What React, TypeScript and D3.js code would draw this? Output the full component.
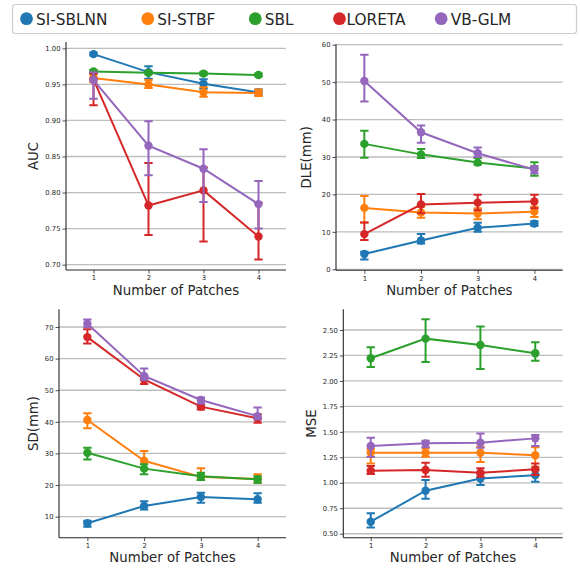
import * as d3 from 'd3';
import { useRef, useEffect } from 'react';

const patches = [1, 2, 3, 4];
const methods = ['SI-SBLNN', 'SI-STBF', 'SBL', 'LORETA', 'VB-GLM'];
const colors = ['#1f77b4', '#ff7f0e', '#2ca02c', '#d62728', '#9467bd'];

// AUC (rows follow methods order)
const aucMean = [
  [0.992, 0.967, 0.951, 0.939],
  [0.959, 0.950, 0.939, 0.938],
  [0.968, 0.966, 0.965, 0.963],
  [0.957, 0.782, 0.803, 0.739],
  [0.956, 0.865, 0.833, 0.784],
];
const aucLow = [
  [0.990, 0.958, 0.944, 0.935],
  [0.953, 0.945, 0.933, 0.934],
  [0.966, 0.964, 0.963, 0.961],
  [0.921, 0.741, 0.732, 0.707],
  [0.930, 0.824, 0.787, 0.750],
];
const aucHigh = [
  [0.994, 0.975, 0.957, 0.943],
  [0.964, 0.956, 0.946, 0.943],
  [0.970, 0.968, 0.967, 0.965],
  [0.965, 0.841, 0.835, 0.786],
  [0.967, 0.899, 0.860, 0.816],
];

// DLE(mm)
const dleMean = [
  [4.1, 7.7, 11.1, 12.2],
  [16.4, 15.2, 14.9, 15.4],
  [33.5, 30.7, 28.5, 26.9],
  [9.4, 17.3, 17.8, 18.1],
  [50.3, 36.6, 31.0, 26.6],
];
const dleLow = [
  [2.6, 6.9, 10.0, 11.6],
  [12.5, 13.8, 13.4, 14.0],
  [29.8, 29.7, 27.9, 25.0],
  [7.8, 15.0, 15.8, 16.3],
  [44.8, 33.8, 30.0, 25.6],
];
const dleHigh = [
  [4.7, 9.4, 12.4, 12.8],
  [19.6, 16.7, 16.3, 16.7],
  [37.0, 32.1, 29.7, 28.6],
  [12.5, 20.1, 19.9, 19.9],
  [57.3, 38.4, 32.5, 27.6],
];

// SD(mm)
const sdMean = [
  [7.9, 13.4, 16.2, 15.5],
  [40.6, 27.7, 22.6, 21.9],
  [30.2, 25.2, 22.8, 21.8],
  [66.8, 53.4, 44.8, 41.1],
  [71.0, 54.5, 46.9, 41.8],
];
const sdLow = [
  [6.8, 12.3, 14.4, 14.4],
  [38.0, 25.0, 21.6, 20.7],
  [28.1, 23.4, 21.6, 20.7],
  [64.8, 52.0, 43.9, 39.7],
  [69.9, 53.2, 45.8, 40.8],
];
const sdHigh = [
  [8.7, 14.9, 17.6, 17.4],
  [42.7, 30.8, 25.3, 23.4],
  [31.8, 26.6, 23.9, 22.8],
  [69.3, 54.5, 45.6, 42.4],
  [72.4, 56.9, 47.7, 44.5],
];

// MSE
const mseMean = [
  [0.618, 0.922, 1.043, 1.075],
  [1.295, 1.295, 1.295, 1.270],
  [2.222, 2.415, 2.353, 2.271],
  [1.119, 1.125, 1.099, 1.132],
  [1.361, 1.387, 1.394, 1.436],
];
const mseLow = [
  [0.562, 0.844, 0.978, 1.010],
  [1.190, 1.256, 1.204, 1.158],
  [2.137, 2.186, 2.117, 2.199],
  [1.086, 1.060, 1.060, 1.076],
  [1.253, 1.348, 1.345, 1.361],
];
const mseHigh = [
  [0.700, 1.027, 1.092, 1.124],
  [1.331, 1.338, 1.354, 1.348],
  [2.330, 2.605, 2.533, 2.379],
  [1.165, 1.197, 1.142, 1.190],
  [1.443, 1.413, 1.485, 1.469],
];

const aucTicks = [0.70, 0.75, 0.80, 0.85, 0.90, 0.95, 1.00];
const dleTicks = [0, 10, 20, 30, 40, 50, 60];
const sdTicks = [10, 20, 30, 40, 50, 60, 70];
const mseTicks = [0.50, 0.75, 1.00, 1.25, 1.50, 1.75, 2.00, 2.25, 2.50];

const panels = [
  { label: 'AUC', mean: aucMean, low: aucLow, high: aucHigh, ticks: aucTicks, fmt: '.2f',
    domain: [0.6926, 1.0088], box: { l: 66, r: 286, t: 42, b: 270 }, labelX: 33 },
  { label: 'DLE(mm)', mean: dleMean, low: dleLow, high: dleHigh, ticks: dleTicks, fmt: 'd',
    domain: [-0.27, 60.1], box: { l: 336, r: 562.7, t: 44.3, b: 270.3 }, labelX: 306 },
  { label: 'SD(mm)', mean: sdMean, low: sdLow, high: sdHigh, ticks: sdTicks, fmt: 'd',
    domain: [3.35, 75.6], box: { l: 59, r: 286, t: 309.3, b: 537.7 }, labelX: 33 },
  { label: 'MSE', mean: mseMean, low: mseLow, high: mseHigh, ticks: mseTicks, fmt: '.2f',
    domain: [0.461, 2.703], box: { l: 343.3, r: 562.7, t: 309.3, b: 537.7 }, labelX: 311.7 },
];

const App = () => {
  const svgRef = useRef(null);

  useEffect(() => {
    document.body.style.margin = '0';
    const svg = d3.select(svgRef.current);
    const width = 580;
    const height = 570;
    const font = 'DejaVu Sans, sans-serif';
    svg.attr('width', width).attr('height', height);
    svg.selectAll('*').remove();
    svg.append('rect').attr('width', width).attr('height', height).attr('fill', 'white');

    panels.forEach(p => {
      const { l, r, t, b } = p.box;
      const x = d3.scaleLinear().domain([0.5, 4.5]).range([l, r]);
      const y = d3.scaleLinear().domain(p.domain).range([b, t]);
      const g = svg.append('g');

      // grid
      g.selectAll('.grid')
        .data(p.ticks)
        .enter().append('line')
        .attr('x1', l).attr('x2', r)
        .attr('y1', d => y(d)).attr('y2', d => y(d))
        .attr('stroke', '#bdbdbd')
        .attr('stroke-width', 1.3);

      // axes
      const yAxis = d3.axisLeft(y).tickValues(p.ticks).tickSize(3.5).tickPadding(2)
        .tickFormat(d3.format(p.fmt));
      const yG = g.append('g').attr('transform', `translate(${l},0)`).call(yAxis);
      const xAxis = d3.axisBottom(x).tickValues(patches).tickSize(3.5).tickPadding(2)
        .tickFormat(d3.format('d'));
      const xG = g.append('g').attr('transform', `translate(0,${b})`).call(xAxis);
      [yG, xG].forEach(ax => {
        ax.select('.domain').attr('stroke', '#262626').attr('stroke-width', 1.1);
        ax.selectAll('.tick line').attr('stroke', '#262626').attr('stroke-width', 0.8);
        ax.selectAll('.tick text').attr('fill', '#262626')
          .style('font-family', font).style('font-size', '6.8px');
      });
      // trim axis ends like matplotlib spines
      yG.select('.domain').attr('d', `M0,${t}V${b}`);
      xG.select('.domain').attr('d', `M${l},0H${r}`);

      // series
      methods.forEach((m, i) => {
        const c = colors[i];
        const sg = g.append('g');
        const pts = patches.map((px, j) => ({ px, v: p.mean[i][j], lo: p.low[i][j], hi: p.high[i][j] }));

        sg.selectAll('.err')
          .data(pts)
          .enter().append('path')
          .attr('d', d => {
            const cx = x(d.px);
            const cw = 4.2;
            return `M${cx},${y(d.lo)}V${y(d.hi)}M${cx - cw},${y(d.lo)}H${cx + cw}M${cx - cw},${y(d.hi)}H${cx + cw}`;
          })
          .attr('fill', 'none')
          .attr('stroke', c)
          .attr('stroke-width', 2);

        const line = d3.line().x(d => x(d.px)).y(d => y(d.v));
        sg.append('path')
          .datum(pts)
          .attr('d', line)
          .attr('fill', 'none')
          .attr('stroke', c)
          .attr('stroke-width', 2);

        sg.selectAll('circle')
          .data(pts)
          .enter().append('circle')
          .attr('cx', d => x(d.px))
          .attr('cy', d => y(d.v))
          .attr('r', 4.2)
          .attr('fill', c);
      });

      // labels
      svg.append('text')
        .attr('x', (l + r) / 2)
        .attr('y', b + 24.5)
        .attr('text-anchor', 'middle')
        .style('font-family', font)
        .style('font-size', '13.3px')
        .attr('fill', '#262626')
        .text('Number of Patches');

      svg.append('text')
        .attr('transform', `translate(${p.labelX + 4.5},${(t + b) / 2}) rotate(-90)`)
        .attr('text-anchor', 'middle')
        .style('font-family', font)
        .style('font-size', '13.3px')
        .attr('fill', '#262626')
        .text(p.label);
    });

    // legend
    const legendX = [26.5, 147.8, 255.3, 339.5, 441.2];
    const legend = svg.append('g');
    legend.append('rect')
      .attr('x', 12.5).attr('y', 4.5)
      .attr('width', 564).attr('height', 29)
      .attr('rx', 3)
      .attr('fill', 'white')
      .attr('stroke', '#cccccc')
      .attr('stroke-width', 1.2);
    methods.forEach((m, i) => {
      legend.append('circle')
        .attr('cx', legendX[i]).attr('cy', 18.7).attr('r', 6.4)
        .attr('fill', colors[i]);
      legend.append('text')
        .attr('x', legendX[i] + (i === 3 ? 7 : 9.5))
        .attr('y', 24.6)
        .style('font-family', font)
        .style('font-size', '15.3px')
        .attr('fill', '#262626')
        .text(m);
    });
  }, []);

  return (
    <div>
      <svg ref={svgRef} style={{ display: 'block' }}></svg>
    </div>
  );
};

export default App;
